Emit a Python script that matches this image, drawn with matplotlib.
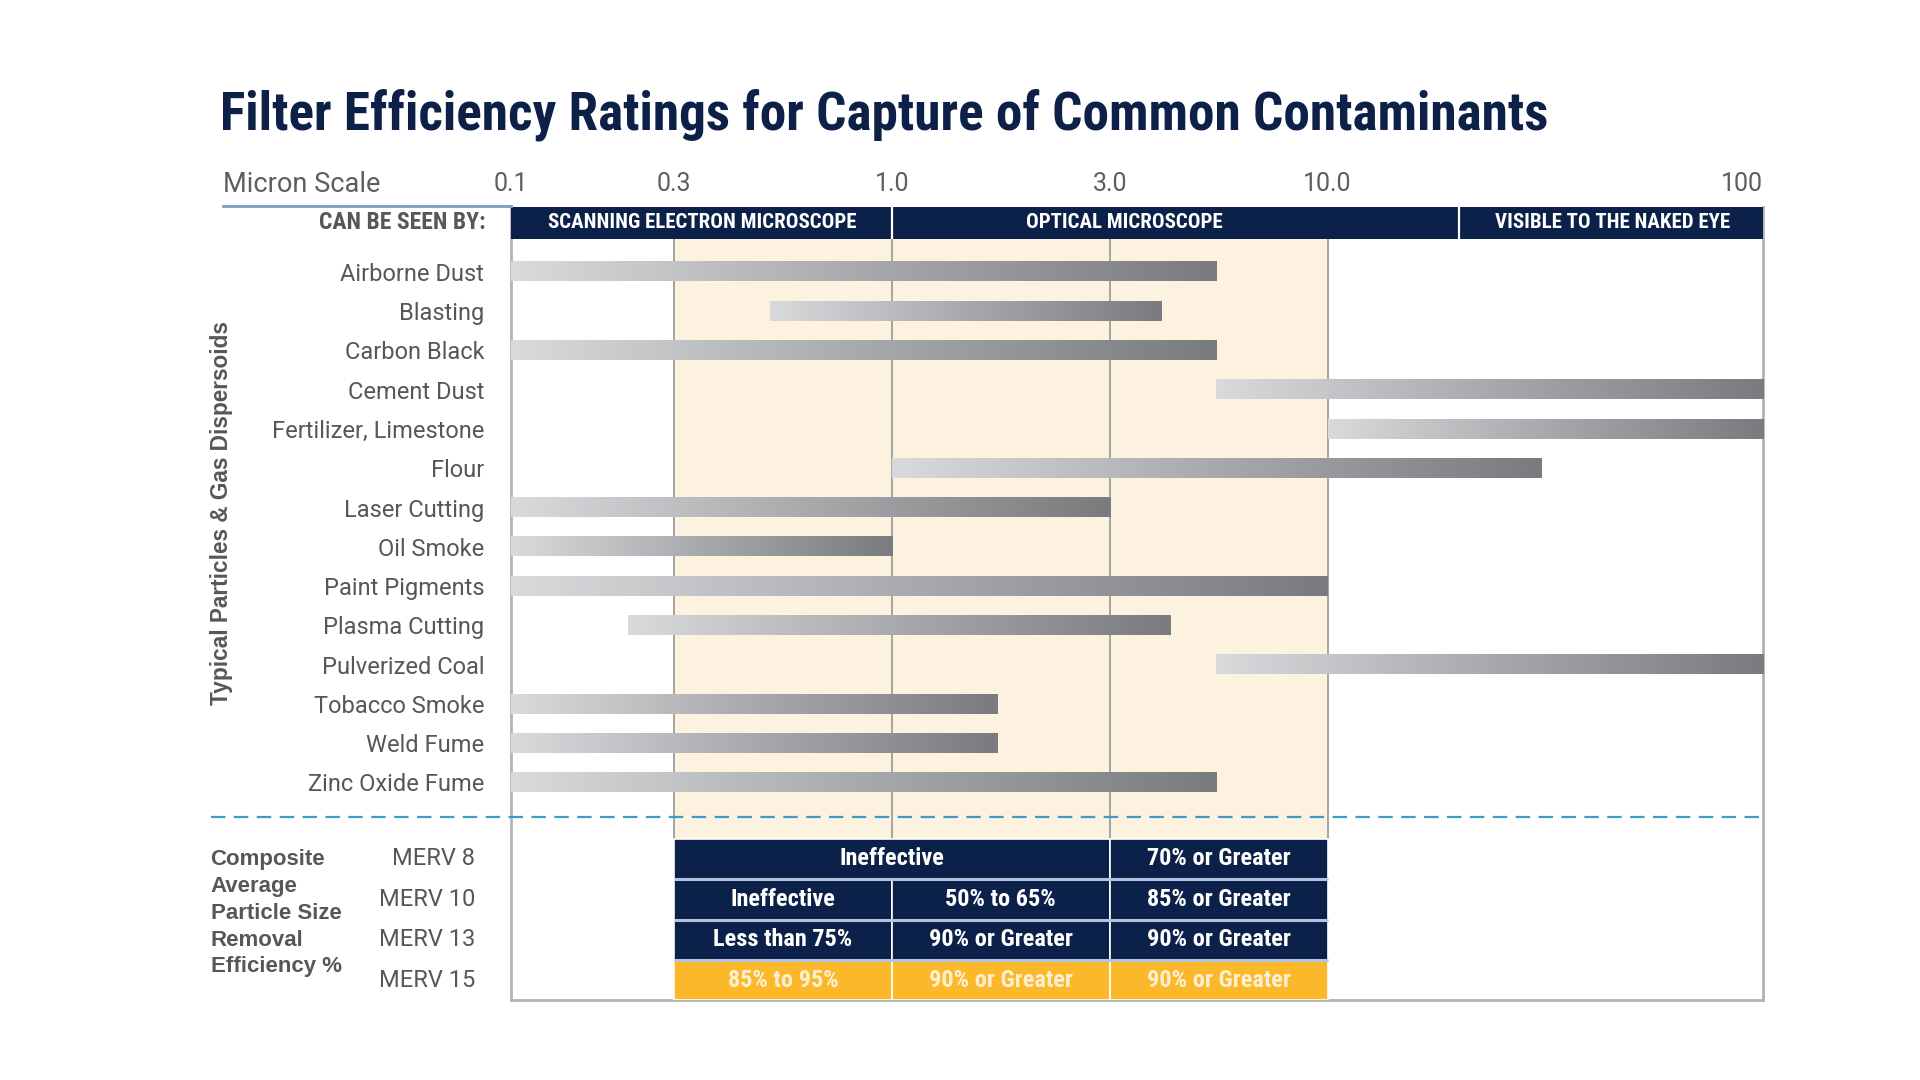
import matplotlib
matplotlib.use("Agg")
import matplotlib.pyplot as plt
import matplotlib.font_manager as fm
from matplotlib.colors import LinearSegmentedColormap
from matplotlib.lines import Line2D
from matplotlib.transforms import BboxTransformTo, TransformedBbox, blended_transform_factory
import numpy as np

# particles and their size range in microns
particles = ["Airborne Dust", "Blasting", "Carbon Black", "Cement Dust", "Fertilizer, Limestone",
             "Flour", "Laser Cutting", "Oil Smoke", "Paint Pigments", "Plasma Cutting",
             "Pulverized Coal", "Tobacco Smoke", "Weld Fume", "Zinc Oxide Fume"]
size_min = [0.1, 0.51, 0.1, 5.4, 10.0, 1.0, 0.1, 0.1, 0.1, 0.22, 5.4, 0.1, 0.1, 0.1]
size_max = [5.4, 4.0, 5.4, 100.0, 100.0, 31.0, 3.0, 1.0, 10.0, 4.2, 100.0, 1.7, 1.7, 5.4]

micron_ticks = [0.1, 0.3, 1.0, 3.0, 10.0, 100.0]
micron_tick_labels = ["0.1", "0.3", "1.0", "3.0", "10.0", "100"]

seen_by_labels = ["SCANNING ELECTRON MICROSCOPE", "OPTICAL MICROSCOPE", "VISIBLE TO THE NAKED EYE"]
seen_by_ranges = [(0.1, 1.0), (1.0, 20.0), (20.0, 100.0)]
seen_by_text_um = [0.35, 3.25, 45.0]

merv_labels = ["MERV 8", "MERV 10", "MERV 13", "MERV 15"]
merv8_cells = [(0.3, 3.0, "Ineffective"), (3.0, 10.0, "70% or Greater")]
merv10_cells = [(0.3, 1.0, "Ineffective"), (1.0, 3.0, "50% to 65%"), (3.0, 10.0, "85% or Greater")]
merv13_cells = [(0.3, 1.0, "Less than 75%"), (1.0, 3.0, "90% or Greater"), (3.0, 10.0, "90% or Greater")]
merv15_cells = [(0.3, 1.0, "85% to 95%"), (1.0, 3.0, "90% or Greater"), (3.0, 10.0, "90% or Greater")]
merv_cells = [merv8_cells, merv10_cells, merv13_cells, merv15_cells]

NAVY = "#0c2149"
GRAY_TXT = "#575757"
CREAM = "#fdf1df"
YELLOW = "#fbb82a"

available = {f.name for f in fm.fontManager.ttflist}


def pick(*names):
    for n in names:
        if n in available:
            return n
    return "DejaVu Sans"


NARROW = pick("Liberation Sans Narrow", "Roboto Condensed", "DejaVu Sans")
SANS = pick("Liberation Sans", "Roboto", "DejaVu Sans")
LIGHT = pick("Roboto", "Liberation Sans", "DejaVu Sans")

# the chart's micron axis: evenly spaced 0.3 / 1 / 3 / 10 steps, a short 0.1-0.3 step, a long 10-100 step
knot_log = np.log10([0.1, 0.3, 1.0, 3.0, 10.0, 100.0])
knot_pos = np.array([0.0, 0.75, 1.75, 2.75, 3.75, 5.75])


def fwd(x):
    return np.interp(np.log10(np.clip(x, 1e-6, None)), knot_log, knot_pos)


def inv(p):
    return 10 ** np.interp(p, knot_pos, knot_log)


def mid(lo, hi):
    return float(inv((fwd(lo) + fwd(hi)) / 2))


fig = plt.figure(figsize=(19.2, 10.8), dpi=100)
W, H = 1568.0, 882.0  # layout measured on the reference preview, scaled below


def fx(x):
    return x / W


def fy(y):
    return 1 - (y + 2) / H


ax = fig.add_axes([fx(417), fy(815), fx(1440) - fx(417), fy(167) - fy(815)])
ax.set_xscale("function", functions=(fwd, inv))

row = 32.08
y_top, y_head, y_table, y_bot = [(v - 220) / row for v in (167, 193, 683, 815)]
merv_h = (y_bot - y_table) / len(merv_labels)

# cream band and grid lines
ax.barh((y_head + y_table) / 2, 10.0 - 0.3, left=0.3, height=y_table - y_head, color=CREAM, zorder=0.5)
ax.vlines([0.3, 1.0, 3.0, 10.0], y_head, y_table, color="#a4a4a4", lw=1.4, zorder=1)

# gradient bars
bar_cmap = LinearSegmentedColormap.from_list("bar", ["#d9dadc", "#a8a9ac", "#7a7b7f"])
grad = np.linspace(0, 1, 256).reshape(1, -1)
for i, (lo, hi) in enumerate(zip(size_min, size_max)):
    bar = ax.barh(i, hi - lo, left=lo, height=0.49, color="none", zorder=3)[0]
    box = TransformedBbox(bar.get_bbox(), ax.transData)
    ax.imshow(grad, cmap=bar_cmap, aspect="auto", extent=(0, 1, 0, 1),
              transform=BboxTransformTo(box), interpolation="bilinear", zorder=3)

# header band
for (lo, hi), lab, at in zip(seen_by_ranges, seen_by_labels, seen_by_text_um):
    ax.barh((y_top + y_head) / 2, hi - lo, left=lo, height=y_head - y_top, color=NAVY,
            edgecolor="none", zorder=5)
    ax.text(at, (y_top + y_head) / 2, lab, ha="center", va="center", color="white",
            fontsize=15, fontweight="bold", family=NARROW, zorder=6)
ax.vlines([r[0] for r in seen_by_ranges[1:]], y_top, y_head, color="white", lw=1.6, zorder=6)

# MERV table
for r, cells in enumerate(merv_cells):
    yc = y_table + merv_h * (r + 0.5)
    face = YELLOW if r == len(merv_cells) - 1 else NAVY
    txt = "#fdf0d2" if r == len(merv_cells) - 1 else "white"
    for lo, hi, lab in cells:
        ax.barh(yc, hi - lo, left=lo, height=merv_h, color=face, edgecolor="white", lw=1.2, zorder=4)
        ax.text(mid(lo, hi), yc, lab, ha="center", va="center", color=txt,
                fontsize=17.5, fontweight="bold", family=NARROW, zorder=6)
ax.hlines([y_table + merv_h * k for k in range(1, len(merv_cells))], 0.3, 10.0,
          color="#b3c2dd", lw=2.2, zorder=5)

# axes styling
ax.set_xlim(0.1, 100)
ax.set_ylim(y_bot, y_top)
ax.set_xticks(micron_ticks)
ax.set_xticklabels(micron_tick_labels)
ax.xaxis.tick_top()
ax.minorticks_off()
ax.tick_params(axis="x", length=0, pad=8, labelsize=18, labelcolor="#5e5e5e")
for t in ax.get_xticklabels():
    t.set_family(LIGHT)
ax.get_xticklabels()[-1].set_horizontalalignment("right")
ax.get_xticklabels()[-1].set_x(100)
ax.set_yticks(range(len(particles)))
ax.set_yticklabels(particles)
ax.tick_params(axis="y", length=0, pad=19, labelsize=17, labelcolor=GRAY_TXT)
for t in ax.get_yticklabels():
    t.set_family(LIGHT)
for side in ("left", "right", "bottom"):
    ax.spines[side].set_color("#b3b3b3")
    ax.spines[side].set_linewidth(2)
ax.spines["top"].set_visible(False)

# MERV row labels
blend = blended_transform_factory(fig.transFigure, ax.transData)
for r, lab in enumerate(merv_labels):
    ax.text(fx(388), y_table + merv_h * (r + 0.5), lab, transform=blend, ha="right", va="center",
            fontsize=17, color=GRAY_TXT, family=LIGHT)

fig.text(fx(172), fy(744), "Composite\nAverage\nParticle Size\nRemoval\nEfficiency %",
         ha="left", va="center", fontsize=16, fontweight="bold", color=GRAY_TXT,
         family=SANS, linespacing=1.36)

# y label, scale label, header label
fig.text(fx(181), fy(417), "Typical Particles & Gas Dispersoids", rotation=90, ha="center",
         va="center", fontsize=16.3, fontweight="bold", color=GRAY_TXT, family=SANS)
fig.text(fx(182), fy(149), "Micron Scale", ha="left", va="center", fontsize=19.5,
         color="#5e5e5e", family=LIGHT)
fig.add_artist(Line2D([fx(182), fx(417)], [fy(166), fy(166)], color="#7f9dc4", lw=2))
fig.text(fx(397), fy(180), "CAN BE SEEN BY:", ha="right", va="center", fontsize=17,
         fontweight="bold", color=GRAY_TXT, family=NARROW)

# dashed divider
fig.add_artist(Line2D([fx(172), fx(1440)], [fy(665), fy(665)], color="#3d9dc5", lw=1.6,
                      linestyle=(0, (6.5, 3.8)), zorder=7))

# title, sized to span the same width as in the reference
title = fig.text(fx(180), fy(92), "Filter Efficiency Ratings for Capture of Common Contaminants",
                 ha="left", va="center", fontsize=34, fontweight="bold", color="#0d2148",
                 family=NARROW)
renderer = fig.canvas.get_renderer()
w = title.get_window_extent(renderer).width
title.set_fontsize(34 * (1085 * 1920 / W) / w)

fig.savefig("out.png", dpi=100, facecolor="white")
